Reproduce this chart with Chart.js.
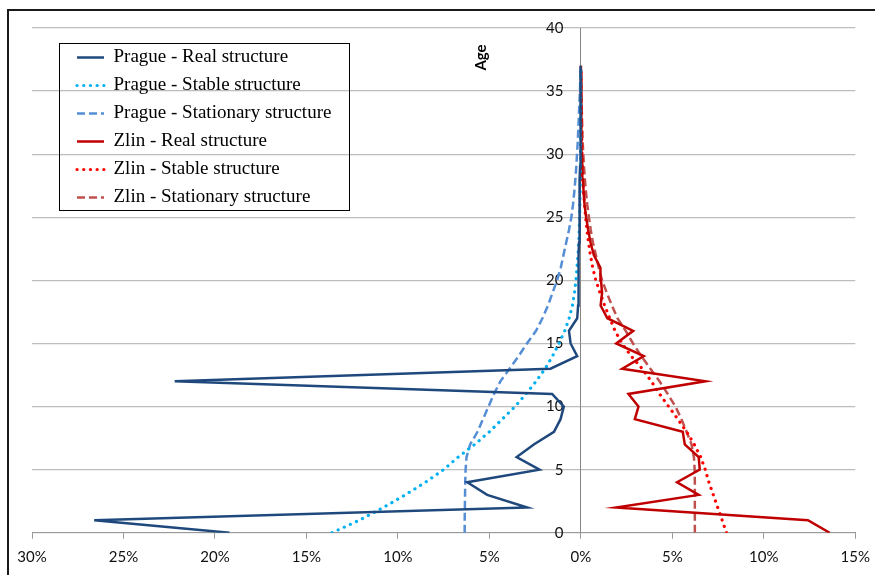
<!DOCTYPE html>
<html>
<head>
<meta charset="utf-8">
<script src="https://cdn.jsdelivr.net/npm/chart.js@4.4.1/dist/chart.umd.min.js"></script>
<style>
  html, body { margin: 0; padding: 0; background: #fff; }
  #wrap { position: relative; width: 875px; height: 575px; overflow: hidden; }
  #frame { position: absolute; left: 7px; top: 9px; width: 900px; height: 700px; border: 2px solid #1a1a1a; }
  canvas { position: absolute; left: 0; top: 0; }
</style>
</head>
<body>
<div id="wrap"><div id="frame"></div><canvas id="chart" width="875" height="575"></canvas></div>
<script>
// age groups (y axis)
const ages = [0, 1, 2, 3, 4, 5, 6, 7, 8, 9, 10, 11, 12, 13, 14, 15, 16, 17, 18, 19,
  20, 21, 22, 23, 24, 25, 26, 27, 28, 29, 30, 31, 32, 33, 34, 35, 36, 37];

// shares in % (Prague is drawn to the left)
const pragueReal = [19.2, 26.6, 2.93, 5.12, 6.21, 2.26, 3.51, 2.57, 1.47, 1.11, 0.93, 1.57, 22.2, 1.66, 0.2, 0.56, 0.65, 0.2, 0.15, 0.14,
  0.13, 0.12, 0.11, 0.1, 0.09, 0.08, 0.07, 0.06, 0.05, 0.04, 0.03, 0.03, 0.02, 0.02, 0.01, 0.01, 0.01, 0];
const pragueStable = [13.6, 12.1, 10.8, 9.6, 8.5, 7.5, 6.7, 5.8, 5.0, 4.3, 3.6, 3.0, 2.45, 1.95, 1.55, 1.2, 0.88, 0.64, 0.46, 0.35,
  0.27, 0.21, 0.16, 0.12, 0.09, 0.07, 0.05, 0.04, 0.03, 0.02, 0.015, 0.01, 0.01, 0.01, 0, 0, 0, 0];
const pragueStationary = [6.35, 6.35, 6.34, 6.33, 6.32, 6.3, 6.25, 6.05, 5.65, 5.35, 5.05, 4.75, 4.4, 3.9, 3.4, 2.95, 2.45, 2.1, 1.8, 1.55,
  1.3, 1.1, 0.95, 0.8, 0.65, 0.52, 0.43, 0.36, 0.3, 0.25, 0.21, 0.17, 0.14, 0.11, 0.08, 0.05, 0.03, 0.01];
const zlinReal = [13.6, 12.41, 1.93, 6.44, 5.26, 6.5, 6.44, 5.68, 5.57, 2.95, 3.15, 2.6, 6.81, 2.26, 3.44, 1.93, 2.86, 1.45, 1.08, 1.16,
  1.1, 1.07, 0.71, 0.53, 0.4, 0.29, 0.2, 0.15, 0.11, 0.08, 0.06, 0.05, 0.04, 0.03, 0.02, 0.01, 0.01, 0];
const zlinStable = [7.96, 7.72, 7.48, 7.24, 7.0, 6.8, 6.55, 6.2, 5.78, 5.3, 4.8, 4.3, 3.85, 3.35, 2.75, 2.25, 1.87, 1.58, 1.3, 1.05,
  0.82, 0.65, 0.52, 0.42, 0.33, 0.26, 0.2, 0.15, 0.11, 0.08, 0.06, 0.05, 0.04, 0.03, 0.02, 0.01, 0.01, 0];
const zlinStationary = [6.23, 6.23, 6.23, 6.23, 6.23, 6.22, 6.18, 6.05, 5.78, 5.5, 5.17, 4.75, 4.3, 3.8, 3.3, 2.85, 2.45, 2.0, 1.7, 1.42,
  1.16, 0.98, 0.82, 0.66, 0.54, 0.44, 0.35, 0.28, 0.22, 0.17, 0.13, 0.1, 0.08, 0.06, 0.04, 0.03, 0.02, 0.01];

const seriesNames = [
  "Prague - Real structure", "Prague - Stable structure", "Prague - Stationary structure",
  "Zlin - Real structure", "Zlin - Stable structure", "Zlin - Stationary structure"
];

// x axis range in %, y axis range in years
const xMin = -30, xMax = 15, xStep = 5;
const yMin = 0, yMax = 40, yStep = 5;

function toPoints(vals, sign) {
  return vals.map((v, i) => ({ x: sign * v, y: ages[i] }));
}

const DOT = [0.1, 6.6];
const DASH = [8, 4];

// "Age" axis title sits at the top of the middle axis
const ageTitle = {
  id: "ageTitle",
  afterDraw(chart) {
    const ctx = chart.ctx;
    const x = chart.scales.x.getPixelForValue(0) - 100;
    const y = chart.chartArea.top + 29.5;
    ctx.save();
    ctx.translate(x, y);
    ctx.rotate(-Math.PI / 2);
    ctx.font = "bold 15px Lato, 'DejaVu Sans', sans-serif";
    ctx.fillStyle = "#000";
    ctx.textAlign = "center";
    ctx.textBaseline = "middle";
    ctx.fillText("Age", 0, 0);
    ctx.restore();
  }
};

// legend inside the plot with a black frame
const legendBox = {
  id: "legendBox",
  afterLayout(chart) {
    const lg = chart.legend;
    const w = lg.width, h = lg.height;
    lg.left = chart.chartArea.left + 36;
    lg.top = chart.chartArea.top + 11;
    lg.right = lg.left + w;
    lg.bottom = lg.top + h;
  },
  afterDraw(chart) {
    const hb = chart.legend.legendHitBoxes;
    if (!hb || !hb.length) return;
    const x0 = hb[0].left - 18;
    const y0 = hb[0].top - 5;
    const x1 = Math.max(...hb.map(b => b.left + b.width)) + 18;
    const last = hb[hb.length - 1];
    const y1 = last.top + last.height + 3;
    const ctx = chart.ctx;
    ctx.save();
    ctx.strokeStyle = "#000";
    ctx.lineWidth = 1;
    ctx.strokeRect(Math.round(x0) + 0.5, Math.round(y0) + 0.5, Math.round(x1 - x0), Math.round(y1 - y0));
    ctx.restore();
  }
};

const ctx = document.getElementById("chart").getContext("2d");
new Chart(ctx, {
  type: "line",
  data: {
    datasets: [
      {
        label: seriesNames[0],
        data: toPoints(pragueReal, -1),
        borderColor: "#1F497D",
        borderWidth: 2.5,
      },
      {
        label: seriesNames[1],
        data: toPoints(pragueStable, -1),
        borderColor: "#00B0F0",
        borderWidth: 3.2,
        borderDash: DOT,
        borderCapStyle: "round",
      },
      {
        label: seriesNames[2],
        data: toPoints(pragueStationary, -1),
        borderColor: "#558ED5",
        borderWidth: 2.5,
        borderDash: DASH,
      },
      {
        label: seriesNames[3],
        data: toPoints(zlinReal, 1),
        borderColor: "#C00000",
        borderWidth: 2.5,
      },
      {
        label: seriesNames[4],
        data: toPoints(zlinStable, 1),
        borderColor: "#FF0000",
        borderWidth: 3.2,
        borderDash: DOT,
        borderCapStyle: "round",
      },
      {
        label: seriesNames[5],
        data: toPoints(zlinStationary, 1),
        borderColor: "#C0504D",
        borderWidth: 2.5,
        borderDash: DASH,
      },
    ],
  },
  options: {
    responsive: false,
    animation: false,
    layout: { padding: { left: 32, top: 28, right: 18, bottom: 0 } },
    elements: {
      point: { radius: 0, hoverRadius: 0 },
      line: { tension: 0, fill: false },
    },
    scales: {
      x: {
        type: "linear",
        min: xMin,
        max: xMax,
        ticks: {
          stepSize: xStep,
          padding: 5,
          color: "#111",
          font: { family: "Lato", size: 15, lineHeight: 1.75 },
          callback: (v) => Math.abs(v) + "%",
        },
        grid: { drawOnChartArea: false, tickLength: 6, color: "#9a9a9a" },
        border: { color: "#9a9a9a" },
      },
      y: {
        type: "linear",
        position: { x: 0 },
        min: yMin,
        max: yMax,
        ticks: {
          stepSize: yStep,
          color: "#111",
          font: { family: "Lato", size: 15 },
          callback: (v) => v + "\u2007\u2007",
        },
        grid: { drawTicks: false, color: "#bdbdbd", lineWidth: 1.3 },
        border: { color: "#868686", width: 1 },
      },
    },
    plugins: {
      tooltip: { enabled: false },
      legend: {
        position: "chartArea",
        align: "start",
        labels: {
          usePointStyle: true,
          pointStyle: "line",
          pointStyleWidth: 27,
          padding: 9,
          color: "#000",
          font: { family: "Liberation Serif", size: 19 },
          generateLabels(chart) {
            const base = Chart.defaults.plugins.legend.labels.generateLabels(chart);
            return base.map((item) => {
              const ds = chart.data.datasets[item.datasetIndex];
              return Object.assign(item, {
                strokeStyle: ds.borderColor,
                fillStyle: ds.borderColor,
                lineWidth: ds.borderWidth,
                lineDash: ds.borderDash || [],
                lineCap: ds.borderCapStyle || "butt",
                pointStyle: "line",
              });
            });
          },
        },
      },
    },
  },
  plugins: [ageTitle, legendBox],
});
</script>
</body>
</html>
